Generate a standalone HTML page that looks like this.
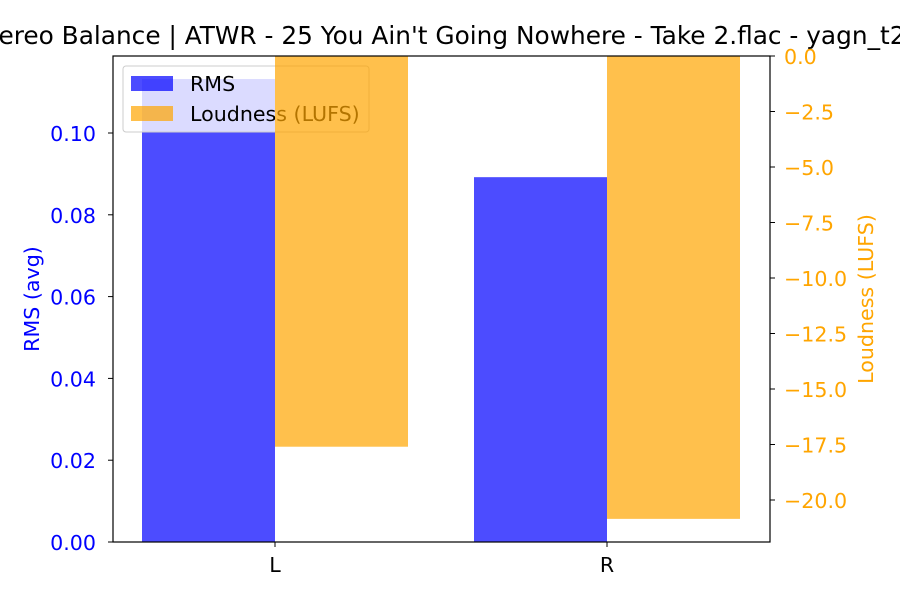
<!DOCTYPE html>
<html><head><meta charset="utf-8"><style>body{margin:0;background:#fff}svg{display:block;font-family:"DejaVu Sans","Liberation Sans",sans-serif}</style></head>
<body>
<svg id="chart" width="900" height="600"></svg>
<script>
const categories=["L","R"];
const rmsValues=[0.1132,0.0892];
const lufsValues=[-17.6,-20.85];
const leftTicks=[0,0.02,0.04,0.06,0.08,0.10];
const rightTicks=[0,-2.5,-5,-7.5,-10,-12.5,-15,-17.5,-20];
const NS="http://www.w3.org/2000/svg";
const svg=document.getElementById('chart');
const X0=113,X1=770,Y0=56,Y1=542;
const FS=20.6;
const xS=i=>275+i*332;
const yL=v=>542-v*4090;
const yR=v=>56-v*22.2;
function el(t,a,p){const e=document.createElementNS(NS,t);for(const k in a)e.setAttribute(k,a[k]);(p||svg).appendChild(e);return e;}
const title=el('text',{x:-27,y:44,'font-size':24.8,fill:'#000'});


title.textContent="Stereo Balance | ATWR - 25 You Ain't Going Nowhere - Take 2.flac - yagn_t2";
const bw=133;
categories.forEach((c,i)=>{
  const r=el('rect',{x:xS(i)-bw,y:yL(rmsValues[i]),width:bw,height:yL(0)-yL(rmsValues[i]),fill:'#0000ff','fill-opacity':0.7});
  
  
  el('line',{x1:xS(i),x2:xS(i),y1:Y1,y2:Y1+5,stroke:'#000'});
  const t=el('text',{x:xS(i),y:Y1+30,'text-anchor':'middle','font-size':FS,fill:'#000'});
  
  
  t.textContent=c;
});
const lg=el('g',{});


el('rect',{x:123,y:66,width:246,height:66,rx:3,fill:'rgba(255,255,255,0.8)',stroke:'#ccc'},lg);
el('rect',{x:131,y:76,width:42,height:15,fill:'#0000ff','fill-opacity':0.7},lg);
el('rect',{x:131,y:106,width:42,height:15,fill:'#ffa500','fill-opacity':0.7},lg);
const t1=el('text',{x:190,y:91,'font-size':FS,fill:'#000'},lg);t1.textContent='RMS';
const t2=el('text',{x:190,y:121,'font-size':FS,fill:'#000'},lg);t2.textContent='Loudness (LUFS)';
categories.forEach((c,i)=>{
  const l=el('rect',{x:xS(i),y:yR(0),width:bw,height:yR(lufsValues[i])-yR(0),fill:'#ffa500','fill-opacity':0.7});
  
  
});
leftTicks.forEach(v=>{
  el('line',{x1:X0-5,x2:X0,y1:yL(v),y2:yL(v),stroke:'#000'});
  const t=el('text',{x:X0-17,y:yL(v)+8,'text-anchor':'end','font-size':FS,fill:'#0000ff'});
  
  
  t.textContent=v.toFixed(2);
});
rightTicks.forEach(v=>{
  el('line',{x1:X1,x2:X1+5,y1:yR(v),y2:yR(v),stroke:'#000'});
  const t=el('text',{x:X1+14,y:yR(v)+8,'font-size':FS,fill:'#ffa500'});
  
  
  t.textContent=(v<0?'\u2212':'')+Math.abs(v).toFixed(1);
});
el('rect',{x:X0,y:Y0,width:X1-X0,height:Y1-Y0,fill:'none',stroke:'#000','stroke-width':1.2});
const yl=el('text',{transform:'translate(39,299) rotate(-90)','text-anchor':'middle','font-size':FS,fill:'#0000ff'});


yl.textContent='RMS (avg)';
const yr=el('text',{transform:'translate(873,299) rotate(-90)','text-anchor':'middle','font-size':FS,fill:'#ffa500'});


yr.textContent='Loudness (LUFS)';
</script>
</body></html>
